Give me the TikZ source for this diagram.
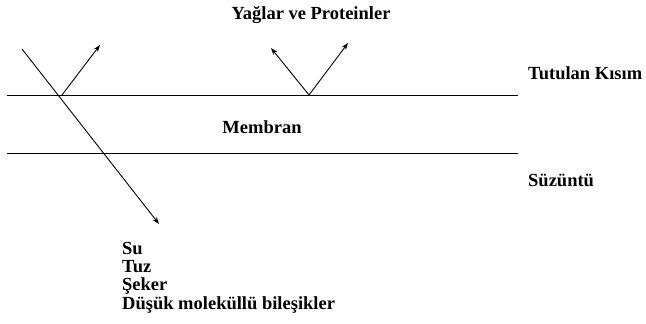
\documentclass[tikz,border=0pt]{standalone}
\usepackage{fontspec}
\setmainfont{Liberation Serif}
\usetikzlibrary{arrows.meta}
\begin{document}
\begin{tikzpicture}[x=1pt,y=-1pt,
  lbl/.style={font=\fontsize{18.5}{19}\selectfont\bfseries, inner sep=0pt},
  memline/.style={line width=1pt},
  flow/.style={line width=0.9pt,-{Stealth[length=7pt,width=5pt]}}]
\useasboundingbox (0,0) rectangle (646,324);
\coordinate (t1) at (7,95);
\coordinate (t2) at (518,95);
\coordinate (b1) at (7,153);
\coordinate (b2) at (518,153);
\draw[memline] (t1) -- (t2);
\draw[memline] (b1) -- (b2);
\coordinate (s) at (22,49);
\coordinate (e) at (159,224);
\draw[flow] (s) -- (e);
\coordinate (v1) at (62,95);
\coordinate (a1) at (100,45);
\draw[flow] (v1) -- (a1);
\coordinate (v2) at (309,95);
\coordinate (a2) at (271,48);
\coordinate (a3) at (348,43);
\draw[flow] (v2) -- (a2);
\draw[flow] (v2) -- (a3);
\node[lbl] (yp) at (311,15) {Yağlar ve Proteinler};
\node[lbl, anchor=west] (tk) at (528,73) {Tutulan Kısım};
\node[lbl] (mb) at (262,127) {Membran};
\node[lbl, anchor=west] (sz) at (528,180) {Süzüntü};
\node[lbl, anchor=west] (su) at (122,248) {Su};
\node[lbl, anchor=west] (tz) at (122,267) {Tuz};
\node[lbl, anchor=west] (sk) at (122,286) {Şeker};
\node[lbl, anchor=west] (dm) at (122,305) {Düşük moleküllü bileşikler};
\end{tikzpicture}
\end{document}
